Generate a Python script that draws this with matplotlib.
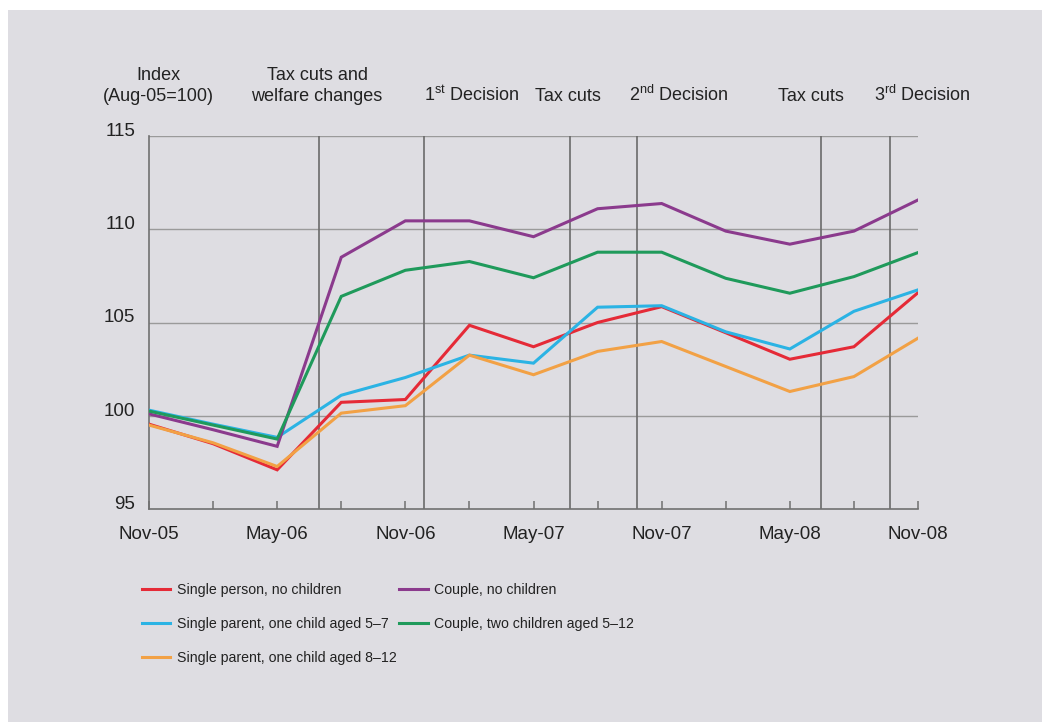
"""
Index of household disposable income, Nov-05 to Nov-08 (Aug-05 = 100)
"""

import matplotlib
matplotlib.use('Agg')
import matplotlib.pyplot as plt
from matplotlib import font_manager
from matplotlib.patches import Rectangle
import numpy as np


def pick_font(names):
    # first installed family from the list
    for name in names:
        try:
            font_manager.findfont(name, fallback_to_default=False)
            return name
        except ValueError:
            continue
    return 'DejaVu Sans'


# ---- data ----
quarters = ['Nov-05', 'Feb-06', 'May-06', 'Aug-06', 'Nov-06', 'Feb-07', 'May-07',
            'Aug-07', 'Nov-07', 'Feb-08', 'May-08', 'Aug-08', 'Nov-08']
tick_labels = ['Nov-05', '', 'May-06', '', 'Nov-06', '', 'May-07',
               '', 'Nov-07', '', 'May-08', '', 'Nov-08']

single_no_kids = [99.55, 98.5, 97.1, 100.72, 100.87, 104.85, 103.7,
                  105.0, 105.85, 104.45, 103.03, 103.7, 106.6]
couple_no_kids = [100.1, 99.25, 98.36, 108.5, 110.45, 110.45, 109.6,
                  111.1, 111.38, 109.9, 109.2, 109.9, 111.57]
single_parent_5_7 = [100.3, 99.55, 98.84, 101.1, 102.05, 103.25, 102.82,
                     105.82, 105.9, 104.5, 103.58, 105.6, 106.75]
couple_two_kids = [100.25, 99.5, 98.75, 106.4, 107.8, 108.27, 107.4,
                   108.77, 108.77, 107.37, 106.57, 107.46, 108.75]
single_parent_8_12 = [99.5, 98.55, 97.28, 100.14, 100.54, 103.25, 102.2,
                      103.45, 103.98, 102.64, 101.3, 102.1, 104.16]

# policy events, months after Nov-05
event_months = [7.95, 12.87, 19.7, 22.85, 31.45, 34.7]
event_labels = [['Tax cuts and', 'welfare changes'],
                [r'1$^{\rm st}$ Decision'],
                ['Tax cuts'],
                [r'2$^{\rm nd}$ Decision'],
                ['Tax cuts'],
                [r'3$^{\rm rd}$ Decision']]
# label centres (months), set by eye
label_centres = [7.87, 15.1, 19.6, 24.8, 31.0, 36.2]

y_ticks = [95, 100, 105, 110, 115]

series = [
    ('Single person, no children', single_no_kids, '#e52a37'),
    ('Single parent, one child aged 5\u20137', single_parent_5_7, '#2bb3e4'),
    ('Single parent, one child aged 8\u201312', single_parent_8_12, '#f2a145'),
    ('Couple, no children', couple_no_kids, '#8b3a8d'),
    ('Couple, two children aged 5\u201312', couple_two_kids, '#1f9a5b'),
]

# ---- style ----
main_font = pick_font(['Liberation Sans', 'Arial'])
narrow_font = pick_font(['Liberation Sans Narrow', 'Arial Narrow'])
plt.rcParams['font.family'] = [main_font, 'DejaVu Sans']
plt.rcParams['mathtext.fontset'] = 'custom'
plt.rcParams['mathtext.rm'] = main_font

bg = '#dedde2'
text_col = '#222222'
axis_col = '#707070'
grid_col = '#9a9a9a'

fig = plt.figure(figsize=(10.42, 7.22), dpi=100, facecolor='white')
fig.patches.append(Rectangle((8 / 1042, 0), 1, 1 - 10 / 722, transform=fig.transFigure,
                             facecolor=bg, edgecolor='none', zorder=-10))

ax = fig.add_axes([149 / 1042, 1 - 509 / 722, 769 / 1042, 373 / 722])
ax.set_facecolor('none')

x = np.arange(len(quarters)) * 3
ax.set_xlim(x[0], x[-1])
ax.set_ylim(y_ticks[0], y_ticks[-1])

# horizontal grid incl. top line
for v in y_ticks[1:]:
    ax.axhline(v, color=grid_col, linewidth=1.0, zorder=1)

# event lines
for m in event_months:
    ax.axvline(m, color='#6a6a6a', linewidth=1.2, zorder=1)

for label, values, colour in series:
    ax.plot(x, values, color=colour, linewidth=2.2, label=label, zorder=3,
            solid_joinstyle='miter')

# spines
for side in ['top', 'right']:
    ax.spines[side].set_visible(False)
for side in ['left', 'bottom']:
    ax.spines[side].set_color(axis_col)
    ax.spines[side].set_linewidth(1.2)

ax.set_xticks(x, tick_labels)
ax.tick_params(axis='x', direction='in', length=6, width=1.1, color=axis_col,
               pad=12, labelsize=13.5, labelcolor=text_col)
ax.set_yticks(y_ticks)
ax.tick_params(axis='y', length=0, pad=10, labelsize=13.5, labelcolor=text_col)
for t in ax.get_yticklabels():
    t.set_verticalalignment('baseline')

# header labels above the plot
line_offsets = [40, 25]  # points above the axes top, baselines of line 1 / 2
ax.annotate('Index', xy=(0.45, 1), xycoords=('data', 'axes fraction'),
            xytext=(0, line_offsets[0]), textcoords='offset points',
            ha='center', va='baseline', fontsize=13, color=text_col)
ax.annotate('(Aug-05=100)', xy=(0.45, 1), xycoords=('data', 'axes fraction'),
            xytext=(0, line_offsets[1]), textcoords='offset points',
            ha='center', va='baseline', fontsize=13, color=text_col)

for lines, cx in zip(event_labels, label_centres):
    offs = line_offsets[-len(lines):]
    for txt, off in zip(lines, offs):
        ax.annotate(txt, xy=(cx, 1), xycoords=('data', 'axes fraction'),
                    xytext=(0, off), textcoords='offset points',
                    ha='center', va='baseline', fontsize=13, color=text_col,
                    annotation_clip=False)

# legend below
if narrow_font != 'DejaVu Sans':
    leg_props = {'family': narrow_font, 'size': 11.5}
    col_gap = 1.3
else:
    leg_props = {'family': main_font, 'size': 10.2}
    col_gap = 0.2
leg = fig.legend(loc='upper left', bbox_to_anchor=(142 / 1042, 1 - 583 / 722),
                 ncol=2, frameon=False, prop=leg_props, handlelength=2.0,
                 handletextpad=0.45, columnspacing=col_gap, labelspacing=1.4,
                 borderpad=0, borderaxespad=0)
for t in leg.get_texts():
    t.set_color(text_col)
for h in leg.get_lines():
    h.set_linewidth(2.2)

fig.savefig('out.png', dpi=100, facecolor=fig.get_facecolor())
